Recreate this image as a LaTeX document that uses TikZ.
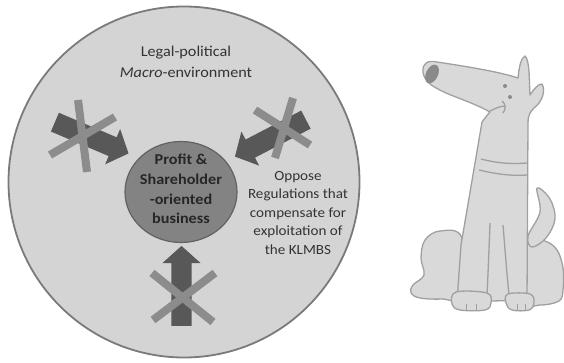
\documentclass[tikz,border=0pt]{standalone}
\usepackage{fontspec}
\setmainfont{Carlito}[FakeStretch=1.08]
\usetikzlibrary{shapes.arrows}
\usetikzlibrary{shapes.geometric}

\definecolor{ringfill}{HTML}{D4D4D4}
\definecolor{ringline}{HTML}{7A7A7A}
\definecolor{corefill}{HTML}{838383}
\definecolor{coreline}{HTML}{626262}
\definecolor{pushgray}{HTML}{585858}
\definecolor{vetogray}{HTML}{8C8C8C}
\definecolor{textgray}{HTML}{333333}
\definecolor{dogfill}{HTML}{D9D9D9}
\definecolor{dogline}{HTML}{A0A0A0}
\definecolor{nosegray}{HTML}{8A8A8A}

\tikzset{force/.style = {single arrow, fill=pushgray, draw=none,
                         minimum height=80pt, inner xsep=0pt, inner ysep=10pt,
                         single arrow head extend=9pt,
                         single arrow tip angle=96},
         veto/.style = {draw=vetogray, line width=8pt},
         dog/.style = {fill=dogfill, draw=dogline, line width=1.3pt,
                       line join=round}}

\begin{document}
\begin{tikzpicture}[x=1pt, y=-1pt]
      \useasboundingbox (0,0) rectangle (564,363);
      % environment ring and the business at its centre
      \node [circle, draw=ringline, fill=ringfill, line width=1.8pt,
             minimum size=351pt] (env) at (184,182) {};
      \node [ellipse, draw=coreline, fill=corefill, line width=1.2pt,
             minimum width=112pt, minimum height=101pt] (core) at (181,192) {};
      \node [align=center, font=\fontsize{15}{21}\selectfont, text=textgray]
            (envlabel) at (186,62) {Legal-political\\\textit{Macro}-environment};
      \node [align=center, font=\fontsize{15}{19.7}\selectfont\bfseries, text=black!85]
            (corelabel) at (181,189) {Profit \&\\Shareholder\\-oriented\\business};
      \node [align=center, font=\fontsize{14}{18.5}\selectfont, text=textgray]
            (oppose) at (298,213) {Oppose\\Regulations that\\compensate for\\exploitation of\\the KLMBS};
      % blocked forces
      \node [force, rotate=-23] (pushL) at (87.5,136) {};
      \node [force, rotate=207.5] (pushR) at (274.5,136) {};
      \node [force, rotate=90] (pushB) at (181.5,290.5) {};
      \draw [veto] (78,100) -- (87,172);
      \draw [veto] (50,155) -- (115,117);
      \draw [veto] (255,110) -- (310,145);
      \draw [veto] (293,98) -- (275,158);
      \draw [veto] (152,273) -- (213,322);
      \draw [veto] (215,273) -- (153,320);
      % the dog: back legs and tail first
      \draw [dog] plot [smooth cycle, tension=0.6] coordinates {(462,238) (440,231) (425,240)
            (421,258) (424,275) (413,285) (411,293) (420,298) (442,299) (462,296)};
      \draw [dog] plot [smooth cycle, tension=0.6] coordinates {(526,238) (545,241) (557,250)
            (563,268) (563,290) (559,301) (540,305) (526,300)};
      \draw [dog] plot [smooth cycle, tension=0.6] coordinates {(528,236) (540,212) (537,188)
            (550,199) (555,219) (546,238) (532,247)};
      % body and head
      \draw [dog] (423,72) .. controls (422,63) and (428,60) .. (437,62)
            .. controls (470,67) and (500,72) .. (518,78)
            .. controls (519,67) and (521,58) .. (525,56)
            .. controls (530,61) and (529,80) .. (530,95)
            .. controls (534,89) and (538,84) .. (542,84)
            .. controls (546,91) and (542,102) .. (534,108)
            .. controls (530,112) and (528,116) .. (528,122)
            -- (527,300) -- (457,302) -- (461,245) -- (482,122)
            .. controls (485,118) and (488,114) .. (490,112)
            .. controls (470,101) and (450,96) .. (438,89)
            .. controls (430,85) and (424,80) .. (423,72) -- cycle;
      \fill [nosegray, rotate around={-25:(432,74)}] (432,74) ellipse [x radius=6, y radius=10];
      \fill [nosegray] (505,86) circle [radius=2] (510,97) circle [radius=2];
      \draw [dogline, line width=1.3pt] (490,111) .. controls (496,108) and (501,106) .. (505,106);
      \draw [dogline, line width=1.3pt] (502,101) .. controls (506,104) and (506,109) .. (503,113);
      % collar
      \draw [dogline, line width=1.3pt] (481,159) .. controls (500,164) and (515,164) .. (527,163);
      \draw [dogline, line width=1.3pt] (479,170) .. controls (500,175) and (515,176) .. (527,175);
      % front legs and paws
      \draw [dogline, line width=1.3pt] (490,223) .. controls (489,250) and (488,275) .. (487,295);
      \draw [dogline, line width=1.3pt] (503,225) .. controls (505,250) and (507,275) .. (509,295);
      \draw [dog] plot [smooth cycle, tension=0.6] coordinates {(456,292) (487,293)
            (491,303) (485,310) (460,310) (452,304)};
      \draw [dog] plot [smooth cycle, tension=0.6] coordinates {(508,294) (530,294)
            (534,303) (529,310) (512,310) (506,303)};
      \draw [dogline, line width=1pt] (466,304) -- (466,310) (476,304) -- (476,310)
            (517,304) -- (517,310) (525,304) -- (525,310);
\end{tikzpicture}
\end{document}
